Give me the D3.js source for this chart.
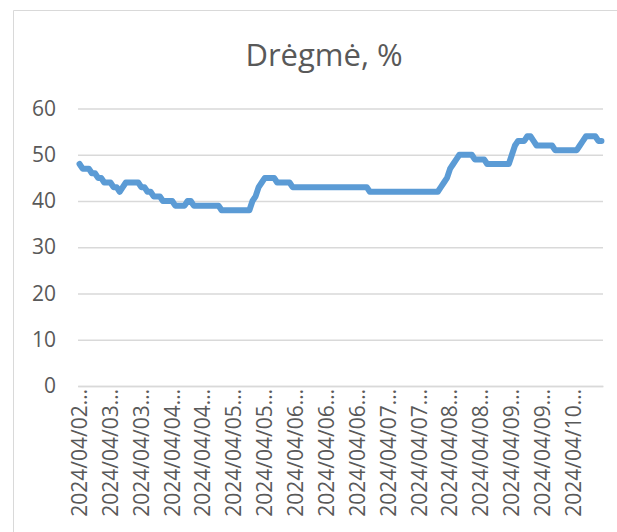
<!DOCTYPE html>
<html>
<head>
<meta charset="utf-8">
<script src="https://cdn.jsdelivr.net/npm/d3@7"></script>
<style>
  body { margin: 0; background: #fff; }
  text { font-family: "Open Sans", "Noto Sans", sans-serif; fill: #595959; }
</style>
</head>
<body>
<svg width="617" height="532"></svg>
<script>
// humidity readings, one per sample
const values = [
  48, 47, 47, 47, 46, 46, 45, 45, 44, 44, 44, 43, 43, 42, 43,
  44, 44, 44, 44, 44, 43, 43, 42, 42, 41, 41, 41, 40, 40, 40, 40,
  39, 39, 39, 39, 40, 40, 39, 39, 39, 39, 39, 39, 39, 39, 39,
  38, 38, 38, 38, 38, 38, 38, 38, 38, 38, 40, 41, 43, 44,
  45, 45, 45, 45, 44, 44, 44, 44, 44,
  43, 43, 43, 43, 43, 43, 43, 43, 43, 43, 43, 43, 43, 43, 43, 43, 43, 43, 43, 43, 43, 43, 43, 43, 43,
  42, 42, 42, 42, 42, 42, 42, 42, 42, 42, 42, 42, 42, 42, 42, 42, 42, 42, 42, 42, 42, 42, 42,
  43, 44, 45, 47, 48, 49, 50, 50, 50, 50, 50, 49, 49, 49, 49,
  48, 48, 48, 48, 48, 48, 48, 48, 50, 52, 53, 53, 53, 54, 54, 53,
  52, 52, 52, 52, 52, 52, 51, 51, 51, 51, 51, 51, 51, 51,
  52, 53, 54, 54, 54, 54, 53, 53
];

// category labels shown every 10th sample (truncated as in the original)
const labels = [
  "2024/04/02…", "2024/04/03…", "2024/04/03…", "2024/04/04…", "2024/04/04…",
  "2024/04/05…", "2024/04/05…", "2024/04/06…", "2024/04/06…", "2024/04/06…",
  "2024/04/07…", "2024/04/07…", "2024/04/08…", "2024/04/08…", "2024/04/09…",
  "2024/04/09…", "2024/04/10…"
];
const labelStep = 10;

const yTicks = [0, 10, 20, 30, 40, 50, 60];
const title = "Drėgmė, %";

const svg = d3.select("svg");
const width = +svg.attr("width");
const height = +svg.attr("height");

const margin = {top: 108.5, right: 14, bottom: 146, left: 78};
const innerWidth = width - margin.left - margin.right;
const innerHeight = height - margin.top - margin.bottom;

// chart frame (right and bottom edges fall outside the picture)
svg.append("path")
  .attr("d", `M13.5,${height} V10.5 H${width}`)
  .attr("fill", "none")
  .attr("stroke", "#d9d9d9");

svg.append("text")
  .attr("x", 324)
  .attr("y", 66)
  .attr("text-anchor", "middle")
  .style("font-size", "31px")
  .text(title);

const g = svg.append("g")
  .attr("transform", `translate(${margin.left}, ${margin.top})`);

const idx = values.map((d, i) => i);

const xScale = d3.scaleBand()
  .domain(idx)
  .range([0, innerWidth])
  .padding(0);

const yScale = d3.scaleLinear()
  .domain([0, 60])
  .range([innerHeight, 0]);

// horizontal gridlines + y labels
const yAxis = d3.axisLeft(yScale)
  .tickValues(yTicks)
  .tickSize(-innerWidth)
  .tickPadding(22);

const yG = g.append("g").call(yAxis);
yG.select(".domain").remove();
yG.selectAll(".tick line")
  .attr("stroke", "#d9d9d9")
  .attr("stroke-width", 1.5);
yG.selectAll(".tick text")
  .style("font-size", "21px")
  .attr("fill", "#595959");

// category axis
const xAxis = d3.axisBottom(xScale)
  .tickValues(idx.filter(i => i % labelStep === 0))
  .tickFormat(i => labels[i / labelStep])
  .tickSize(0);

const xG = g.append("g")
  .attr("transform", `translate(0, ${innerHeight})`)
  .call(xAxis);
xG.select(".domain")
  .attr("stroke", "#d9d9d9")
  .attr("stroke-width", 1.5);
xG.selectAll(".tick text")
  .style("font-size", "21px")
  .attr("fill", "#595959")
  .attr("text-anchor", "end")
  .attr("transform", "rotate(-90)")
  .attr("x", -3)
  .attr("y", 0)
  .attr("dy", "0.35em");

const lineGenerator = d3.line()
  .x((d, i) => xScale(i) + xScale.bandwidth() / 2)
  .y(d => yScale(d));

g.append("path")
  .attr("d", lineGenerator(values))
  .attr("fill", "none")
  .attr("stroke", "#5b9bd5")
  .attr("stroke-width", 6)
  .attr("stroke-linejoin", "round")
  .attr("stroke-linecap", "round");
</script>
</body>
</html>
